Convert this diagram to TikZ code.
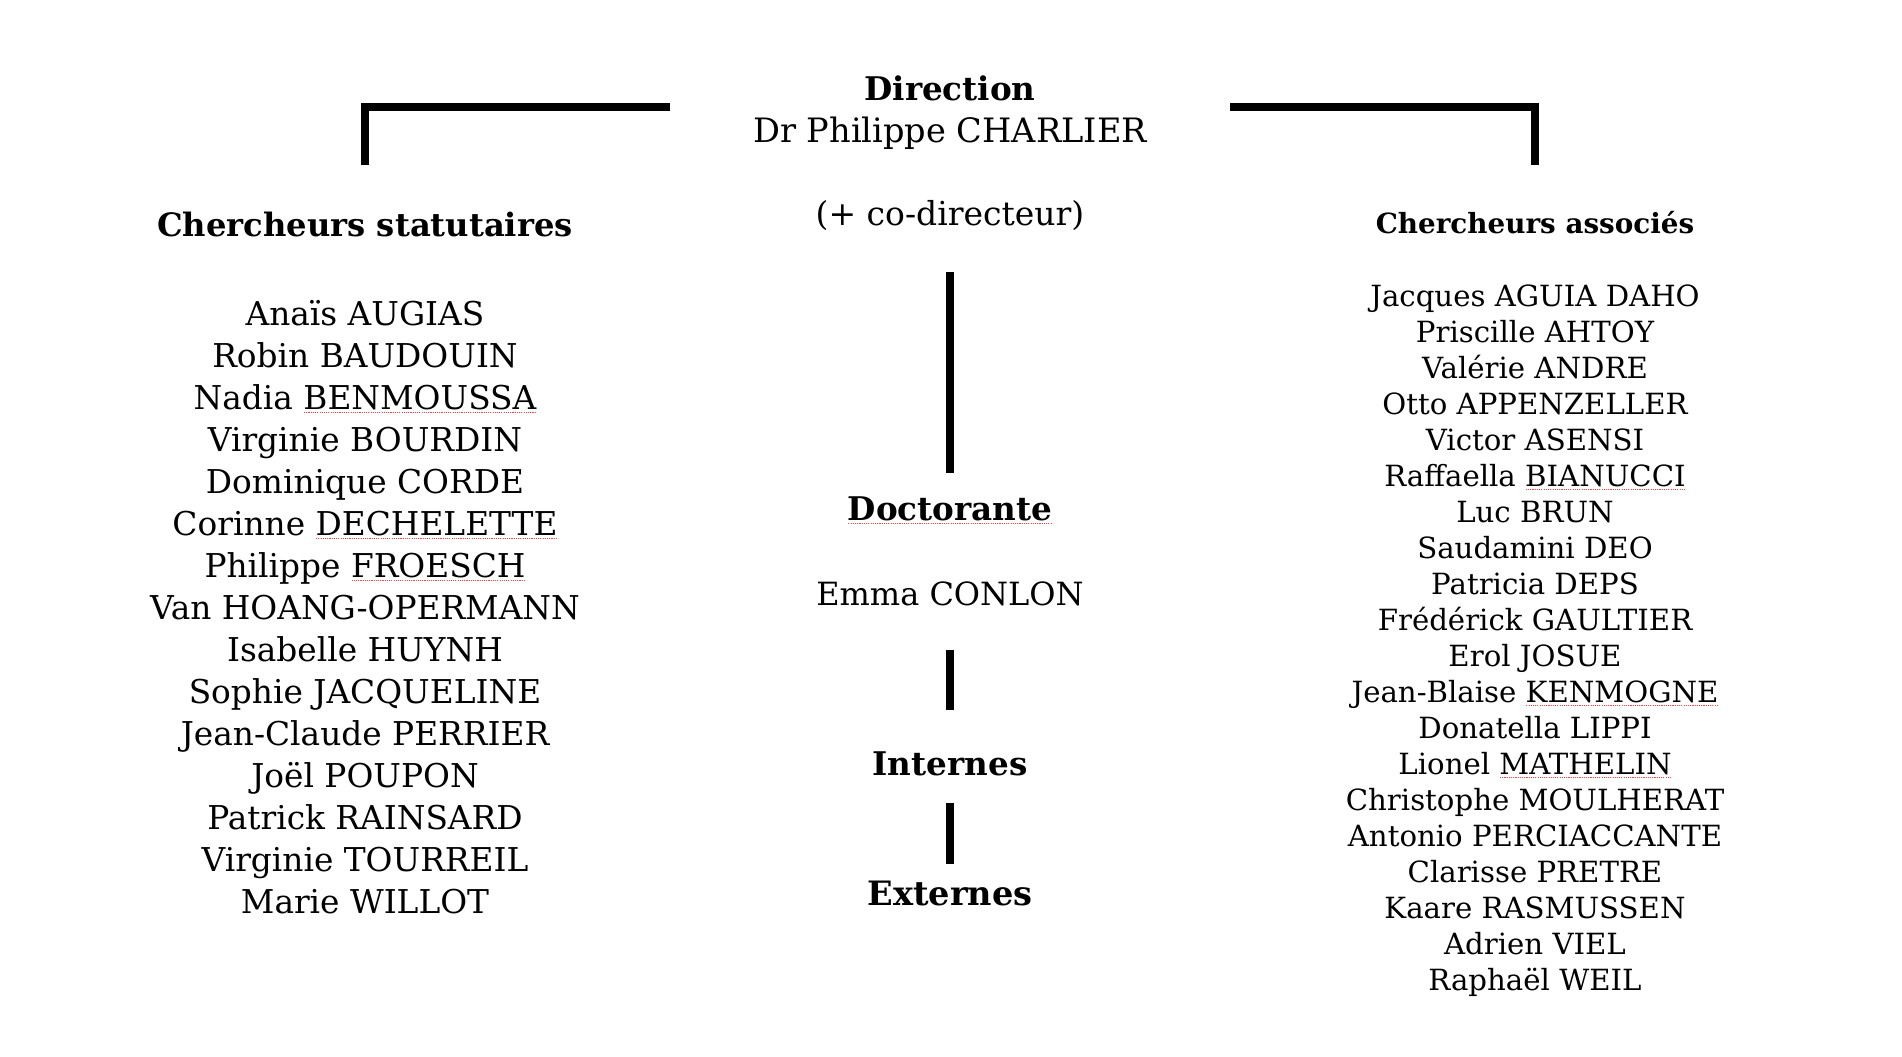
\documentclass[tikz,border=0pt]{standalone}
\usepackage{fontspec}
\setmainfont{DejaVu Serif}
\newsavebox\spbox
\newcommand\spellul[1]{\sbox\spbox{#1}\rlap{\raisebox{-1.8pt}{\color{red!75}\hbox to \wd\spbox{\xleaders\hbox to 1.1pt{\hss\rule{0.55pt}{0.55pt}\hss}\hfill}}}\usebox\spbox}
\begin{document}
\begin{tikzpicture}[x=0.5pt,y=-0.5pt,
  lname/.style={anchor=base,inner sep=0pt,font=\fontsize{16.4}{19}\selectfont},
  rname/.style={anchor=base,inner sep=0pt,font=\fontsize{14.6}{17}\selectfont},
  mtext/.style={anchor=base,inner sep=0pt,font=\fontsize{16.4}{19}\selectfont},
  lhead/.style={anchor=base,inner sep=0pt,font=\fontsize{16.1}{18}\selectfont\bfseries},
  rhead/.style={anchor=base,inner sep=0pt,font=\fontsize{13.9}{16}\selectfont\bfseries},
  mhead/.style={anchor=base,inner sep=0pt,font=\fontsize{16.3}{19}\selectfont\bfseries},
  bar/.style={line width=4pt,line cap=butt,line join=miter}]
\useasboundingbox[fill=white] (0,0) rectangle (1902,1056);

% centre column
\node[mhead] (dir) at (950,100) {Direction};
\node[mtext,font=\fontsize{16.8}{19}\selectfont] (chief) at (950,142) {Dr Philippe CHARLIER};
\node[mtext,font=\fontsize{16.5}{19}\selectfont] (codir) at (950,225) {(+ co-directeur)};
\node[mhead] (doct) at (950,520) {\spellul{Doctorante}};
\node[mtext,font=\fontsize{16}{19}\selectfont] (emma) at (950,605) {Emma CONLON};
\node[mhead] (int) at (950,775) {Internes};
\node[mhead,font=\fontsize{16.8}{19}\selectfont\bfseries] (ext) at (950,905) {Externes};

% column headers
\node[lhead] (stat) at (365,236) {Chercheurs statutaires};
\node[rhead] (assoc) at (1535,233) {Chercheurs associés};

% left names
\foreach \t [count=\i from 0] in {
  Anaïs AUGIAS, Robin BAUDOUIN, Nadia \spellul{BENMOUSSA}, Virginie BOURDIN,
  Dominique CORDE, Corinne \spellul{DECHELETTE}, Philippe \spellul{FROESCH},
  Van HOANG-OPERMANN, Isabelle HUYNH, Sophie JACQUELINE, Jean-Claude PERRIER,
  Joël POUPON, Patrick RAINSARD, Virginie TOURREIL, Marie WILLOT}
  \node[lname] (l\i) at (365,{325+42*\i}) {\t};

% right names
\foreach \t [count=\i from 0] in {
  Jacques AGUIA DAHO, Priscille AHTOY, Valérie ANDRE, Otto APPENZELLER,
  Victor ASENSI, Raffaella \spellul{BIANUCCI}, Luc BRUN, Saudamini DEO,
  Patricia DEPS, Frédérick GAULTIER, Erol JOSUE, Jean-Blaise \spellul{KENMOGNE},
  Donatella LIPPI, Lionel \spellul{MATHELIN}, Christophe MOULHERAT,
  Antonio PERCIACCANTE, Clarisse PRETRE, Kaare RASMUSSEN, Adrien VIEL,
  Raphaël WEIL}
  \node[rname] (r\i) at (1535,{306+36.05*\i}) {\t};

% connector end points
\coordinate (la) at (670,106.5);
\coordinate (lb) at (365,106.5);
\coordinate (lc) at (365,165);
\coordinate (ra) at (1230,106.5);
\coordinate (rb) at (1535,106.5);
\coordinate (rc) at (1535,165);
\coordinate (m1a) at (950,272);
\coordinate (m1b) at (950,473);
\coordinate (m2a) at (950,650);
\coordinate (m2b) at (950,710);
\coordinate (m3a) at (950,803);
\coordinate (m3b) at (950,864);

\draw[bar] (la) -- (lb) -- (lc);
\draw[bar] (ra) -- (rb) -- (rc);
\draw[bar] (m1a) -- (m1b);
\draw[bar] (m2a) -- (m2b);
\draw[bar] (m3a) -- (m3b);
\end{tikzpicture}
\end{document}
